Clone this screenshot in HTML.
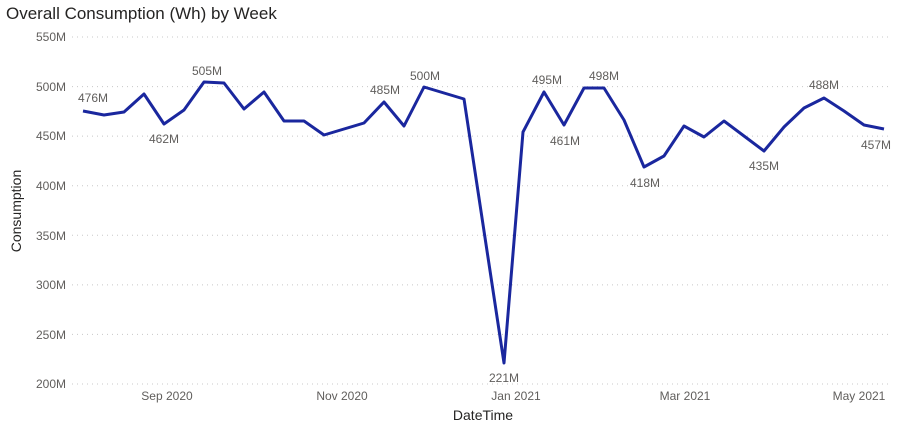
<!DOCTYPE html>
<html><head><style>
body{margin:0;background:#fff;width:899px;height:429px;overflow:hidden;font-family:"Liberation Sans",sans-serif}
</style></head><body>
<svg width="899" height="429" xmlns="http://www.w3.org/2000/svg" font-family="Liberation Sans, sans-serif">
<text x="6" y="19" font-size="17" fill="#252423">Overall Consumption (Wh) by Week</text>
<g stroke="#c8c8c8" stroke-dasharray="1,4" stroke-width="1">
<line x1="72" x2="892" y1="37" y2="37"/><line x1="72" x2="892" y1="86.6" y2="86.6"/>
<line x1="72" x2="892" y1="136.1" y2="136.1"/><line x1="72" x2="892" y1="185.7" y2="185.7"/>
<line x1="72" x2="892" y1="235.3" y2="235.3"/><line x1="72" x2="892" y1="284.9" y2="284.9"/>
<line x1="72" x2="892" y1="334.4" y2="334.4"/><line x1="72" x2="892" y1="384" y2="384"/>
</g>
<g font-size="12" fill="#605e5c" text-anchor="end">
<text x="66" y="41">550M</text><text x="66" y="91">500M</text><text x="66" y="140">450M</text>
<text x="66" y="190">400M</text><text x="66" y="240">350M</text><text x="66" y="289">300M</text>
<text x="66" y="339">250M</text><text x="66" y="388">200M</text>
</g>
<g font-size="12" fill="#605e5c" text-anchor="middle">
<text x="167" y="400">Sep 2020</text><text x="342" y="400">Nov 2020</text>
<text x="516" y="400">Jan 2021</text><text x="685" y="400">Mar 2021</text><text x="859" y="400">May 2021</text>
</g>
<text x="483" y="420" font-size="14" fill="#252423" text-anchor="middle">DateTime</text>
<text transform="translate(21,211) rotate(-90)" font-size="14" fill="#252423" text-anchor="middle">Consumption</text>
<polyline fill="none" stroke="#1a279e" stroke-width="3" stroke-linejoin="round" points="83,111 104,115 124,112 144,94 164,124 184,110 204,82 224,83 244,109 264,92 284,121 304,121 324,135 344,129 364,123 384,102 404,126 424,87 444,93 464,99 504,363 523,132 544,92 564,125 584,88 604,88 624,120 644,167 664,156 684,126 704,137 724,121 744,136 764,151 784,127 804,108 824,98 844,111 864,125 884,129"/>
<g font-size="12" fill="#605e5c" text-anchor="middle">
<text x="93" y="102">476M</text><text x="164" y="143">462M</text><text x="207" y="75">505M</text>
<text x="385" y="94">485M</text><text x="425" y="80">500M</text><text x="504" y="382">221M</text>
<text x="547" y="84">495M</text><text x="565" y="145">461M</text><text x="604" y="80">498M</text>
<text x="645" y="187">418M</text><text x="764" y="170">435M</text><text x="824" y="89">488M</text>
<text x="876" y="149">457M</text>
</g>
</svg>
</body></html>
